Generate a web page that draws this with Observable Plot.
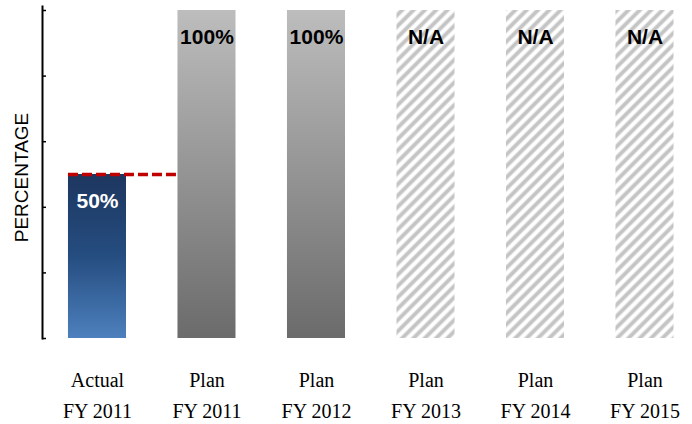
<!DOCTYPE html>
<html>
<head>
<meta charset="utf-8">
<script src="https://cdn.jsdelivr.net/npm/d3@7"></script>
<script src="https://cdn.jsdelivr.net/npm/@observablehq/plot@0.6"></script>
<style>
  html, body { margin: 0; padding: 0; background: #fff; }
</style>
</head>
<body>
<div id="chart"></div>
<script>
// ---- data ----
const categories = ["Actual FY 2011", "Plan FY 2011", "Plan FY 2012", "Plan FY 2013", "Plan FY 2014", "Plan FY 2015"];
const labelLine1 = ["Actual", "Plan", "Plan", "Plan", "Plan", "Plan"];
const labelLine2 = ["FY 2011", "FY 2011", "FY 2012", "FY 2013", "FY 2014", "FY 2015"];
const kinds = ["actual", "plan", "plan", "na", "na", "na"];
const heights = [50, 100, 100, 100, 100, 100];
const valueLabels = ["50%", "100%", "100%", "N/A", "N/A", "N/A"];
const targetValue = 50;
const yTicks = [0, 20, 40, 60, 80, 100];
const axisTitle = "PERCENTAGE";

const rows = categories.map((c, i) => ({
  cat: c, kind: kinds[i], value: heights[i], label: valueLabels[i],
  line1: labelLine1[i], line2: labelLine2[i]
}));

const fillFor = {actual: "url(#gradBlue)", plan: "url(#gradGray)", na: "url(#stripes)"};

const defsMark = () => {
  const defs = d3.create("svg:defs");
  const gb = defs.append("linearGradient").attr("id", "gradBlue")
    .attr("x1", 0).attr("y1", 0).attr("x2", 0).attr("y2", 1);
  gb.append("stop").attr("offset", "0%").attr("stop-color", "#1d365f");
  gb.append("stop").attr("offset", "50%").attr("stop-color", "#254d80");
  gb.append("stop").attr("offset", "100%").attr("stop-color", "#4d80bd");
  const gg = defs.append("linearGradient").attr("id", "gradGray")
    .attr("x1", 0).attr("y1", 0).attr("x2", 0).attr("y2", 1);
  gg.append("stop").attr("offset", "0%").attr("stop-color", "#bdbdbd");
  gg.append("stop").attr("offset", "100%").attr("stop-color", "#6b6b6b");
  const p = defs.append("pattern").attr("id", "stripes")
    .attr("patternUnits", "userSpaceOnUse")
    .attr("width", 8).attr("height", 8)
    .attr("patternTransform", "rotate(45)");
  p.append("rect").attr("width", 8).attr("height", 8).attr("fill", "#ffffff");
  p.append("rect").attr("x", 1).attr("width", 1).attr("height", 8).attr("fill", "#e4e4e4");
  p.append("rect").attr("x", 2).attr("width", 3).attr("height", 8).attr("fill", "#c4c4c4");
  p.append("rect").attr("x", 5).attr("width", 1).attr("height", 8).attr("fill", "#e4e4e4");
  return defs.node();
};

const chart = Plot.plot({
  width: 692,
  height: 424,
  marginLeft: 42,
  marginRight: 0,
  marginTop: 10,
  marginBottom: 86,
  style: {background: "#fff", overflow: "visible"},
  x: {domain: categories, paddingInner: 0.47, paddingOuter: 0.203, align: 0.584, round: false, axis: null},
  y: {domain: [0, 100], axis: null},
  marks: [
    defsMark,
    Plot.barY(rows.filter(d => d.kind === "actual"), {x: "cat", y: "value", fill: d => fillFor[d.kind]}),
    Plot.ruleY([targetValue], {y: d => d, x1: () => categories[0], x2: () => categories[1],
      stroke: "#c00000", strokeWidth: 3.5, strokeDasharray: "10,4"}),
    Plot.barY(rows.filter(d => d.kind !== "actual"), {x: "cat", y: "value", fill: d => fillFor[d.kind]}),
    Plot.text(rows, {x: "cat", y: "value", text: "label", dy: 27,
      fill: d => d.kind === "actual" ? "#ffffff" : "#000000",
      fontSize: 21, fontWeight: "bold", fontFamily: "Liberation Sans, Arial, sans-serif"}),
    Plot.axisY({ticks: yTicks, tickFormat: () => "", tickSize: -4, stroke: "#000", strokeWidth: 1.5, label: null}),
    Plot.frame({anchor: "left", stroke: "#000", strokeWidth: 2, insetTop: -4}),
    Plot.text([axisTitle], {frameAnchor: "left", dx: -21, dy: 3, rotate: -90, text: d => d, textAnchor: "middle",
      fontSize: 19, fontFamily: "Liberation Sans, Arial, sans-serif", fill: "#000", style: "letter-spacing:2.5px"}),
    Plot.text(rows, {x: "cat", frameAnchor: "bottom", dy: 48, text: "line1",
      fontSize: 20, fontFamily: "Liberation Serif, Times New Roman, serif", fill: "#000"}),
    Plot.text(rows, {x: "cat", frameAnchor: "bottom", dy: 79, text: "line2",
      fontSize: 20, fontFamily: "Liberation Serif, Times New Roman, serif", fill: "#000"})
  ]
});
document.getElementById("chart").appendChild(chart);
</script>
</body>
</html>
